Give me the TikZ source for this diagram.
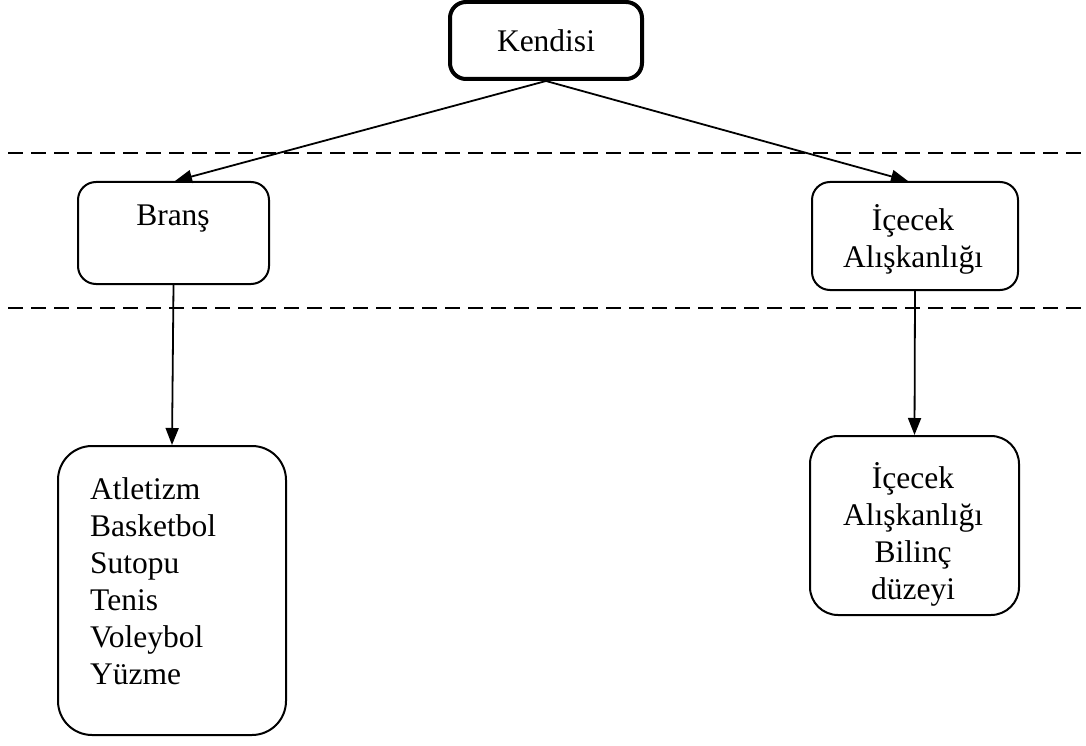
\documentclass[tikz,border=0pt]{standalone}
\usepackage{fontspec}
\setmainfont{Liberation Serif}
\usetikzlibrary{arrows.meta}
\begin{document}
\begin{tikzpicture}[x=1pt,y=-1pt,
  box/.style={draw, line width=2pt, rounded corners=18pt, inner sep=0pt},
  txt/.style={inner sep=0pt, font=\fontsize{31.5}{37}\selectfont},
  arr/.style={line width=1.8pt, -{Triangle[length=17pt,width=13pt]}},
  sep/.style={line width=2pt, dash pattern=on 15pt off 8pt}]
\useasboundingbox (0,0) rectangle (1086,746);
% dashed separators
\coordinate (d1a) at (8,153); \coordinate (d1b) at (1082,153);
\coordinate (d2a) at (8,308); \coordinate (d2b) at (1082,308);
\draw[sep] (d1a) -- (d1b);
\draw[sep] (d2a) -- (d2b);
% boxes
\node[box, line width=4pt, rounded corners=16pt, minimum width=192pt, minimum height=77pt,
      font=\fontsize{31.5}{37}\selectfont] (k) at (546,40.5) {Kendisi};
\node[box, minimum width=191pt, minimum height=102pt] (b) at (173.5,233) {};
\node[txt] (bt) at (173,219) {Branş};
\node[box, minimum width=206pt, minimum height=108pt] (i) at (915,236) {};
\node[txt, align=center] (it) at (913,239) {İçecek\\Alışkanlığı};
\node[box, rounded corners=34pt, minimum width=228pt, minimum height=289pt] (a) at (172,590.5) {};
\node[txt, align=left, anchor=west] (at) at (90,581) {Atletizm\\Basketbol\\Sutopu\\Tenis\\Voleybol\\Yüzme};
\node[box, rounded corners=28pt, minimum width=209pt, minimum height=179pt] (bl) at (914.5,525.5) {};
\node[txt, align=center] (blt) at (913,534) {İçecek\\Alışkanlığı\\Bilinç\\düzeyi};
% connectors
\draw[arr] (k.south) -- ([xshift=1.5pt]b.north);
\draw[arr] (k.south) -- ([xshift=-7pt]i.north);
\draw[arr] (b.south) -- (a.north);
\draw[arr] (i.south) -- (bl.north);
\end{tikzpicture}
\end{document}
